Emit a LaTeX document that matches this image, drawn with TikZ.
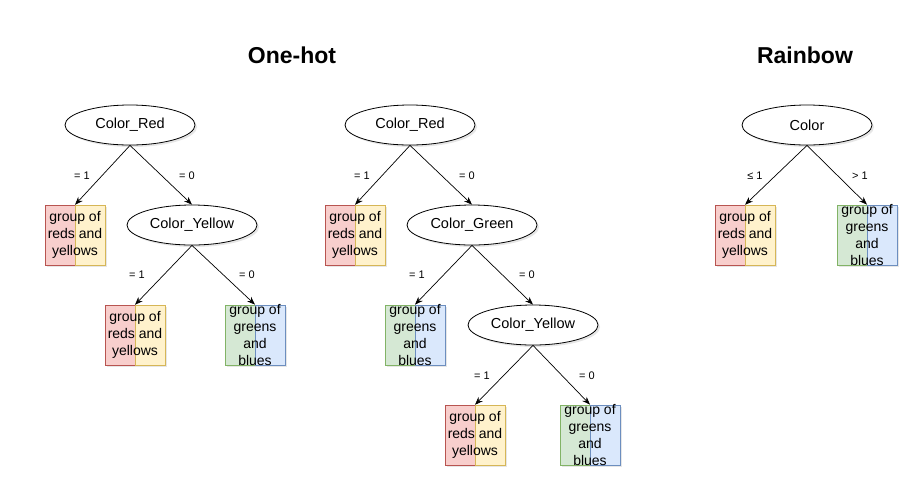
\documentclass[tikz,border=0pt]{standalone}
\usepackage{fontspec}
\setmainfont{Liberation Sans}
\usetikzlibrary{shapes.geometric,arrows.meta,shadows}

\definecolor{redfill}{HTML}{F8CECC}
\definecolor{redline}{HTML}{B85450}
\definecolor{yellowfill}{HTML}{FFF2CC}
\definecolor{yellowline}{HTML}{D6B656}
\definecolor{greenfill}{HTML}{D5E8D4}
\definecolor{greenline}{HTML}{82B366}
\definecolor{bluefill}{HTML}{DAE8FC}
\definecolor{blueline}{HTML}{6C8EBF}

\tikzset{
    split/.style={ellipse, draw, fill=white, line width=0.8pt, minimum width=130pt, minimum height=40pt,
        inner sep=0pt, font=\fontsize{14.5}{17}\selectfont,
        drop shadow={opacity=0.2, shadow xshift=2pt, shadow yshift=-2pt}},
    half/.style={rectangle, draw=#1line, fill=#1fill, line width=0.8pt, minimum width=30pt, minimum height=60pt,
        inner sep=0pt, drop shadow={opacity=0.2, shadow xshift=2pt, shadow yshift=-2pt}},
    leaf/.style={rectangle, minimum width=60pt, minimum height=60pt, inner sep=0pt, align=center,
        font=\fontsize{14}{16.7}\selectfont},
    cond/.style={font=\fontsize{11}{13}\selectfont},
    branch/.style={-{Stealth[length=8pt,width=6pt]}, line width=0.7pt},
    heading/.style={font=\bfseries\fontsize{23}{27}\selectfont}
}

\begin{document}
\begin{tikzpicture}[x=1pt,y=-1pt]
    \useasboundingbox (0,0) rectangle (909,499);

    % titles
    \node[heading] (titleA) at (292,55) {One-hot};
    \node[heading] (titleB) at (805,55) {Rainbow};

    % one-hot, first tree
    \node[split] (redA) at (130,125) {Color\_Red};
    \node[split] (yellowA) at (192,225) {Color\_Yellow};

    \node[half=red] at (60,235) {};
    \node[half=yellow] at (90,235) {};
    \node[leaf] (leafA1) at (75,235) {group of\\reds and\\yellows};

    \node[half=red] at (120,335) {};
    \node[half=yellow] at (150,335) {};
    \node[leaf] (leafA2) at (135,335) {group of\\reds and\\yellows};

    \node[half=green] at (240,335) {};
    \node[half=blue] at (270,335) {};
    \node[leaf] (leafA3) at (255,335) {group of\\greens\\and\\blues};

    \draw[branch] (redA.south) -- (leafA1.north);
    \draw[branch] (redA.south) -- (yellowA.north);
    \draw[branch] (yellowA.south) -- (leafA2.north);
    \draw[branch] (yellowA.south) -- (leafA3.north);

    \node[cond] (cA1) at (82,176) {= 1};
    \node[cond] (cA2) at (187,176) {= 0};
    \node[cond] (cA3) at (137,275) {= 1};
    \node[cond] (cA4) at (247,275) {= 0};

    % one-hot, second tree
    \node[split] (redB) at (410,125) {Color\_Red};
    \node[split] (greenB) at (472,225) {Color\_Green};
    \node[split] (yellowB) at (533,325) {Color\_Yellow};

    \node[half=red] at (340,235) {};
    \node[half=yellow] at (370,235) {};
    \node[leaf] (leafB1) at (355,235) {group of\\reds and\\yellows};

    \node[half=green] at (400,335) {};
    \node[half=blue] at (430,335) {};
    \node[leaf] (leafB2) at (415,335) {group of\\greens\\and\\blues};

    \node[half=red] at (460,435) {};
    \node[half=yellow] at (490,435) {};
    \node[leaf] (leafB3) at (475,435) {group of\\reds and\\yellows};

    \node[half=green] at (575,435) {};
    \node[half=blue] at (605,435) {};
    \node[leaf] (leafB4) at (590,435) {group of\\greens\\and\\blues};

    \draw[branch] (redB.south) -- (leafB1.north);
    \draw[branch] (redB.south) -- (greenB.north);
    \draw[branch] (greenB.south) -- (leafB2.north);
    \draw[branch] (greenB.south) -- (yellowB.north);
    \draw[branch] (yellowB.south) -- (leafB3.north);
    \draw[branch] (yellowB.south) -- (leafB4.north);

    \node[cond] (cB1) at (362,176) {= 1};
    \node[cond] (cB2) at (467,176) {= 0};
    \node[cond] (cB3) at (417,275) {= 1};
    \node[cond] (cB4) at (527,275) {= 0};
    \node[cond] (cB5) at (482,376) {= 1};
    \node[cond] (cB6) at (587,376) {= 0};

    % rainbow tree
    \node[split] (colorC) at (807,125) {Color};

    \node[half=red] at (730,235) {};
    \node[half=yellow] at (760,235) {};
    \node[leaf] (leafC1) at (745,235) {group of\\reds and\\yellows};

    \node[half=green] at (852,235) {};
    \node[half=blue] at (882,235) {};
    \node[leaf] (leafC2) at (867,235) {group of\\greens\\and\\blues};

    \draw[branch] (colorC.south) -- (leafC1.north);
    \draw[branch] (colorC.south) -- (leafC2.north);

    \node[cond] (cC1) at (755,176) {≤ 1};
    \node[cond] (cC2) at (860,176) {> 1};
\end{tikzpicture}
\end{document}
